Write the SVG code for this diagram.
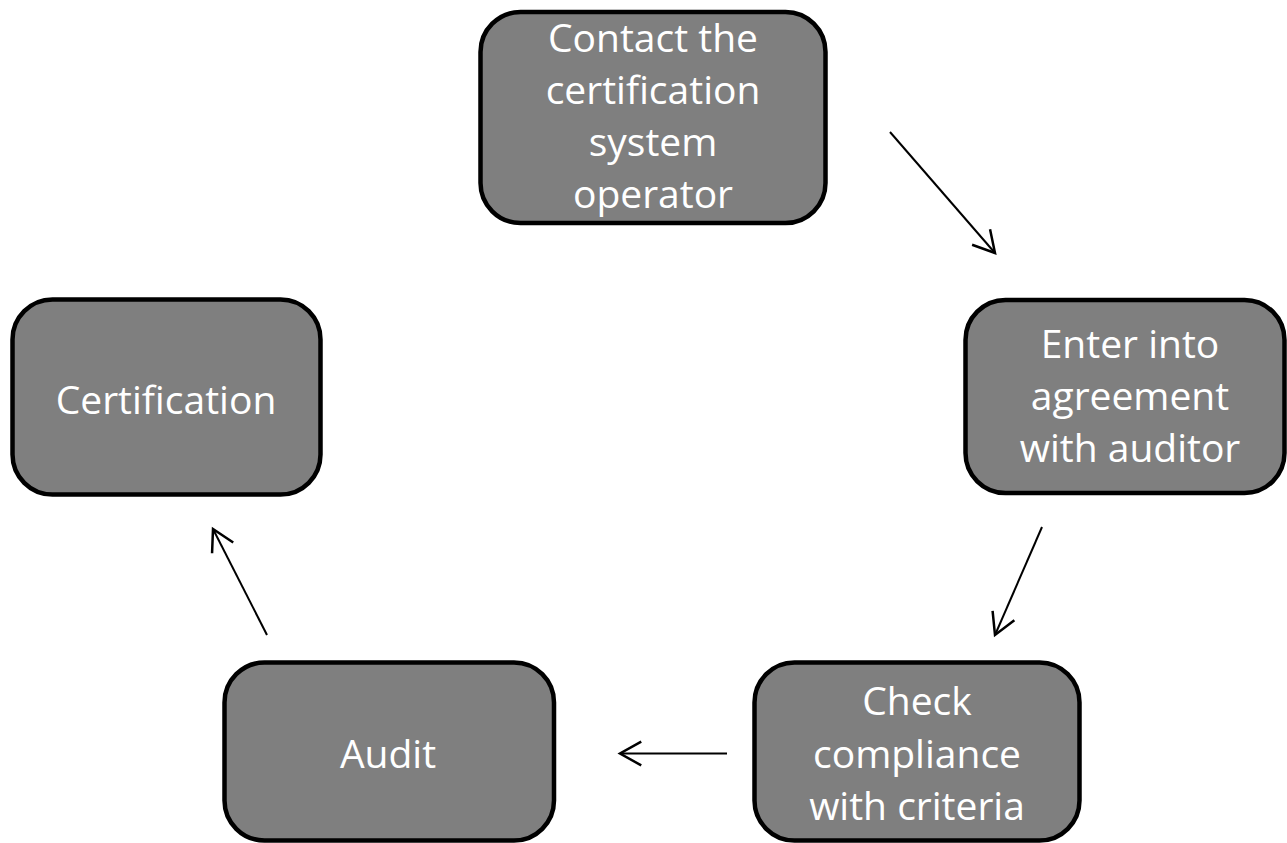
<svg xmlns="http://www.w3.org/2000/svg" width="1287" height="843" viewBox="0 0 1287 843">
<style>
.box{fill:#7f7f7f;stroke:#000;stroke-width:4.5}
.lbl{font-family:"Open Sans","Noto Sans",sans-serif;font-size:39px;fill:#fff;text-anchor:middle}
.conn{stroke:#000;stroke-width:2;fill:none;marker-end:url(#arr)}
</style>
<defs>
<marker id="arr" markerUnits="userSpaceOnUse" markerWidth="30" markerHeight="30" viewBox="-20 -12 24 24" refX="0" refY="0" orient="auto">
<path d="M-17,-9.5 L0,0 L-17,9.5" fill="none" stroke="#000" stroke-width="2"/>
</marker>
</defs>
<rect width="1287" height="843" fill="#fff"/>
<g id="contact">
<rect class="box" x="480.5" y="12" width="345" height="211" rx="40"/>
<text class="lbl" x="653" y="52">Contact the</text>
<text class="lbl" x="653" y="104">certification</text>
<text class="lbl" x="653" y="156">system</text>
<text class="lbl" x="653" y="208">operator</text>
</g>
<g id="agreement">
<rect class="box" x="965.5" y="300" width="319" height="193" rx="40"/>
<text class="lbl" x="1130" y="358">Enter into</text>
<text class="lbl" x="1130" y="410">agreement</text>
<text class="lbl" x="1130" y="462">with auditor</text>
</g>
<g id="check">
<rect class="box" x="754.5" y="662.5" width="325" height="178" rx="40"/>
<text class="lbl" x="917" y="715">Check</text>
<text class="lbl" x="917" y="768">compliance</text>
<text class="lbl" x="917" y="820">with criteria</text>
</g>
<g id="audit">
<rect class="box" x="224.5" y="662.5" width="329.5" height="178" rx="40"/>
<text class="lbl" x="388" y="768">Audit</text>
</g>
<g id="certification">
<rect class="box" x="12.5" y="299.5" width="308" height="195" rx="40"/>
<text class="lbl" x="166" y="414">Certification</text>
</g>
<g id="connectors">
<line class="conn" x1="890" y1="132" x2="995" y2="253"/>
<line class="conn" x1="1042" y1="527" x2="995" y2="635"/>
<line class="conn" x1="727" y1="753.5" x2="620" y2="753.5"/>
<line class="conn" x1="267" y1="635" x2="213" y2="529"/>
</g>
</svg>
